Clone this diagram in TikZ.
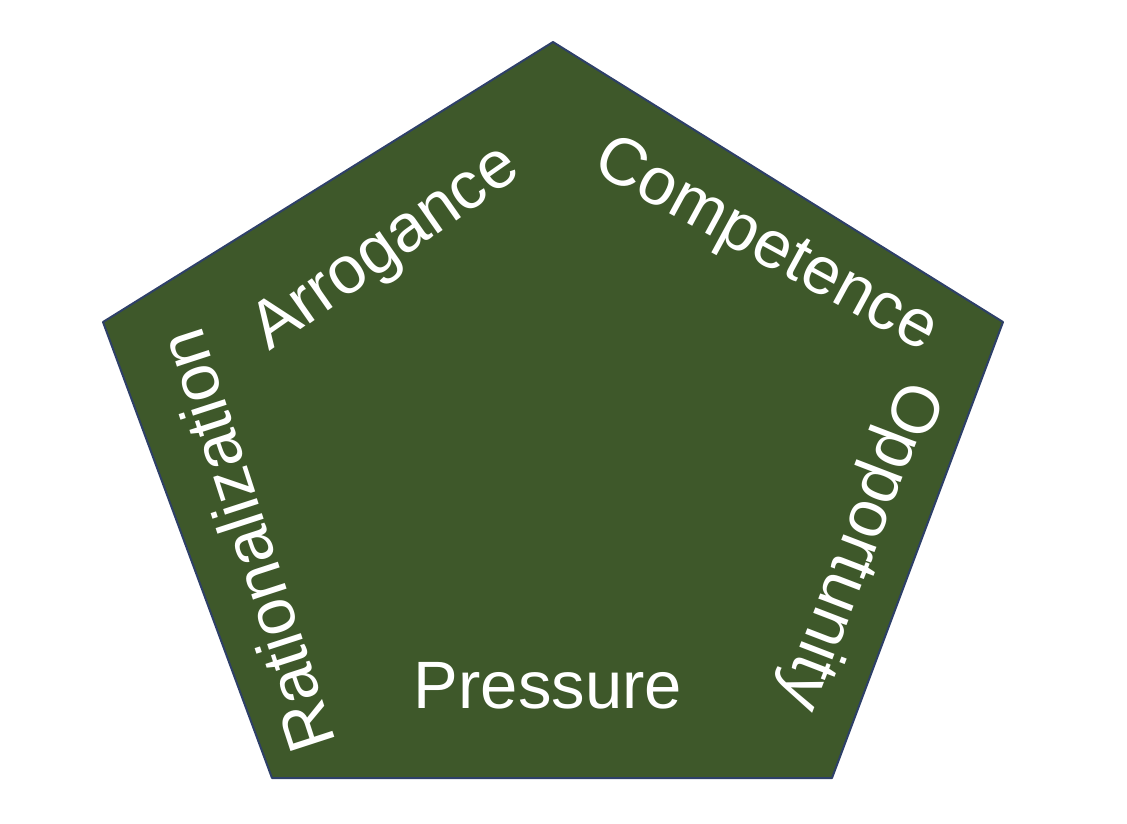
\documentclass[tikz,border=0pt]{standalone}
\usepackage{fontspec}
\setmainfont{Liberation Sans}
\definecolor{pentfill}{RGB}{62,88,42}
\definecolor{pentline}{RGB}{46,64,104}
\begin{document}
\begin{tikzpicture}[x=1pt, y=-1pt,
  lbl/.style={text=white, inner sep=0pt, font=\fontsize{67}{70}\selectfont}]
  \useasboundingbox (0,0) rectangle (1127,823);
  \coordinate (top) at (553,42);
  \coordinate (rgt) at (1003,322);
  \coordinate (brt) at (832,778);
  \coordinate (blf) at (272,778);
  \coordinate (lft) at (103,322);
  \draw[pentline, line width=2pt, fill=pentfill, line join=round]
    (top) -- (rgt) -- (brt) -- (blf) -- (lft) -- cycle;
  \node[lbl, rotate=108] (rat) at (246,541) {Rationalization};
  \node[lbl, rotate=35] (arr) at (387,250) {Arrogance};
  \node[lbl, rotate=-28.5] (com) at (765,247) {Competence};
  \node[lbl, rotate=-111] (opp) at (858,545) {Opportunity};
  \node[lbl] (pre) at (548,686) {Pressure};
\end{tikzpicture}
\end{document}
